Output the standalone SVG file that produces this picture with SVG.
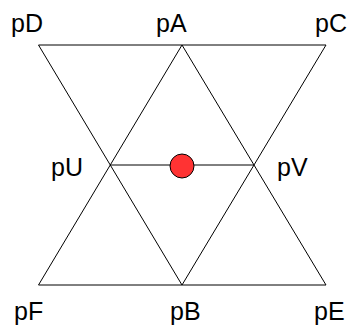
<svg xmlns="http://www.w3.org/2000/svg" width="353" height="327" viewBox="0 0 353 327">
<style>
.e{stroke:#000;stroke-width:1;fill:none}
.t{font-family:"Liberation Sans",Arial,sans-serif;font-size:25px;fill:#000}
</style>
<rect width="353" height="327" fill="#fff"/>
<g id="connectors">
<line class="e" x1="38.5" y1="45" x2="326" y2="45"/>
<line class="e" x1="38.5" y1="285" x2="326" y2="285"/>
<line class="e" x1="110" y1="165" x2="254" y2="165"/>
<line class="e" x1="38.5" y1="45" x2="182" y2="285"/>
<line class="e" x1="182" y1="45" x2="38.5" y2="285"/>
<line class="e" x1="182" y1="45" x2="326" y2="285"/>
<line class="e" x1="326" y1="45" x2="182" y2="285"/>
</g>
<g id="pD"><text class="t" x="11" y="32">pD</text></g>
<g id="pA"><text class="t" x="156" y="32">pA</text></g>
<g id="pC"><text class="t" x="315" y="32">pC</text></g>
<g id="pU"><text class="t" x="51" y="176">pU</text></g>
<g id="pV"><text class="t" x="277" y="176">pV</text></g>
<g id="pF"><text class="t" x="14" y="320">pF</text></g>
<g id="pB"><text class="t" x="170" y="320">pB</text></g>
<g id="pE"><text class="t" x="314" y="320">pE</text></g>
<g id="dot"><circle cx="182" cy="166" r="12" fill="#f33" stroke="#000" stroke-width="1"/></g>
</svg>
